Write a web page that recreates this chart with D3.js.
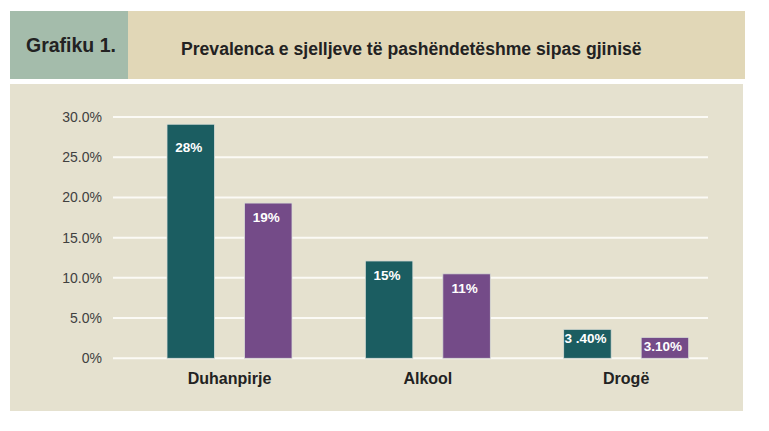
<!DOCTYPE html>
<html><head><meta charset="utf-8">
<script src="https://cdn.jsdelivr.net/npm/d3@7/dist/d3.min.js"></script>
<style>body{margin:0;background:#fff}svg{display:block}</style>
</head><body>
<svg id="c" width="769" height="431"></svg>
<script>
const categories = ["Duhanpirje", "Alkool", "Drogë"];
const series = ["Djem", "Vajza"];
const valuesDjem = [29.1, 12.1, 3.6];
const valuesVajza = [19.3, 10.5, 2.6];
const labelsDjem = ["28%", "15%", "3 .40%"];
const labelsVajza = ["19%", "11%", "3.10%"];
const yTicks = [0, 5, 10, 15, 20, 25, 30];
const headerLabel = "Grafiku 1.";
const titleText = "Prevalenca e sjelljeve të pashëndetëshme sipas gjinisë";

const colors = {Djem: "#1b5d61", Vajza: "#744b88"};
const font = "'Liberation Sans', Arial, sans-serif";
const svg = d3.select("#c");

// header
svg.append("rect").attr("x",10).attr("y",11).attr("width",118).attr("height",68).attr("fill","#a4bcab");
svg.append("rect").attr("x",128).attr("y",11).attr("width",617).attr("height",68).attr("fill","#e1d7b7");
svg.append("text").attr("x",26).attr("y",52).attr("font-family",font).attr("font-weight","bold")
  .attr("font-size",19.5).attr("fill","#222").text(headerLabel);
const t = svg.append("text").attr("x",181).attr("y",55).attr("font-family",font).attr("font-weight","bold")
  .attr("font-size",16).attr("fill","#222").text(titleText);
const w = t.node().getComputedTextLength();
t.attr("font-size", 16*461/w);

// panel
svg.append("rect").attr("x",10).attr("y",84).attr("width",733).attr("height",327).attr("fill","#e5e1cf");

const y = d3.scaleLinear().domain([0,30]).range([358.3,117]);
const x0 = d3.scaleBand().domain(categories).range([113,708]);
const x1 = d3.scaleBand().domain(series).range([54,179]).paddingInner(30/77.5);

// grid
svg.append("g").selectAll("line").data(yTicks).join("line")
  .attr("x1",113).attr("x2",708).attr("y1",d=>y(d)).attr("y2",d=>y(d))
  .attr("stroke","#fbfaf5").attr("stroke-width",2);

// y axis labels
const yAxis = d3.axisLeft(y).tickValues(yTicks).tickSize(0).tickPadding(0)
  .tickFormat(d=> d===0 ? "0%" : d.toFixed(1)+"%");
const ga = svg.append("g").attr("transform","translate(102,0)").call(yAxis);
ga.select(".domain").remove();
ga.selectAll("text").attr("font-family",font).attr("font-size",14).attr("fill","#404040");

// bars
const rows = categories.map((c,i)=>({c, vals:[
  {s:"Djem", v:valuesDjem[i], l:labelsDjem[i]},
  {s:"Vajza", v:valuesVajza[i], l:labelsVajza[i]}]}));
const g = svg.append("g").selectAll("g").data(rows).join("g")
  .attr("transform", d=>`translate(${x0(d.c)},0)`);
g.selectAll("rect").data(d=>d.vals).join("rect")
  .attr("x", d=>x1(d.s)).attr("width", x1.bandwidth())
  .attr("y", d=>y(d.v)).attr("height", d=>y(0)-y(d.v))
  .attr("fill", d=>colors[d.s]).attr("stroke","#d9ddd6").attr("stroke-width",0.8);
g.selectAll("text.v").data(d=>d.vals).join("text").attr("class","v")
  .attr("x", d=>x1(d.s)+x1.bandwidth()/2-2)
  .attr("y", d=> { const h = y(0)-y(d.v); return h < 40 ? y(d.v)+14 : (d.v > 25 ? y(d.v)+28 : y(d.v)+19); })
  .attr("text-anchor","middle").attr("font-family",font).attr("font-weight","bold")
  .attr("font-size",13.5).attr("fill","#fff").text(d=>d.l);

// category labels
svg.append("g").selectAll("text").data(categories).join("text")
  .attr("x", d=>x0(d)+(x1.range()[0]+x1.range()[1])/2)
  .attr("y", 384).attr("text-anchor","middle").attr("font-family",font).attr("font-weight","bold")
  .attr("font-size",16).attr("fill","#222").text(d=>d);
</script>
</body></html>
